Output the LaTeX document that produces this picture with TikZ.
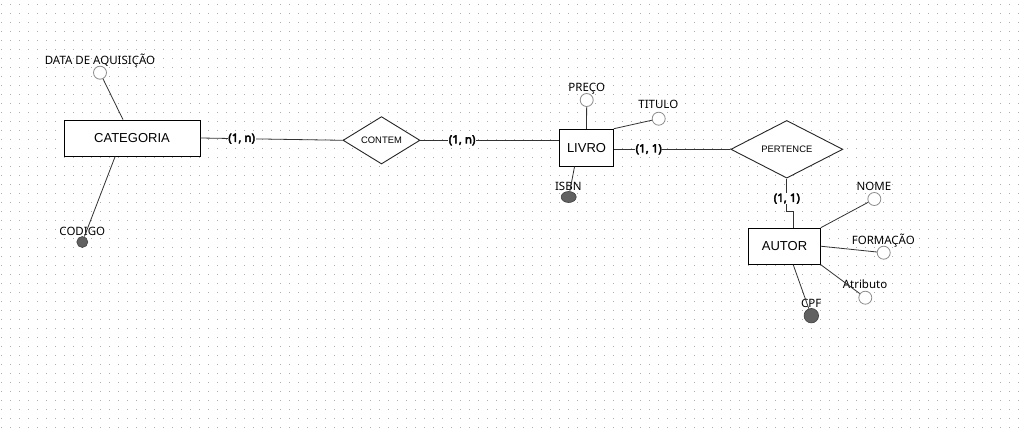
\documentclass[tikz,border=0pt]{standalone}
\usepackage{fontspec}
\setmainfont{Noto Sans}
\newfontfamily\boxfont{Liberation Sans}
\newfontfamily\cardfont{Noto Sans}[AutoFakeBold=3.6]
\usetikzlibrary{shapes.geometric,calc}
\begin{document}
\begin{tikzpicture}[x=1pt,y=-1pt,
  ent/.style={draw=black,line width=0.9pt,fill=white,inner sep=0pt,font=\boxfont\fontsize{13}{15}\selectfont},
  rel/.style={diamond,draw=black!85,line width=0.9pt,fill=white,inner sep=0pt,font=\boxfont\fontsize{9.4}{11}\selectfont},
  attr/.style={circle,draw=black!45,line width=0.8pt,fill=white,inner sep=0pt,minimum size=13pt},
  keyattr/.style={circle,draw=black!75,fill=black!62,inner sep=0pt,line width=0.6pt},
  lbl/.style={anchor=base,inner sep=0pt,font=\fontsize{11.5}{13}\selectfont},
  card/.style={fill=white,inner sep=0.6pt,font=\cardfont\bfseries\fontsize{11.5}{13}\selectfont},
  conn/.style={draw=black!80,line width=0.8pt},
]
\fill[white] (0,0) rectangle (1022,431);
\useasboundingbox (0,0) rectangle (1022,431);
\foreach \r in {0,...,47}
  \draw[black!32,line width=1pt,dash pattern=on 1pt off 8pt] (1,{4.5+9*\r}) -- (1022,{4.5+9*\r});

% entities and relationships
\node[ent,minimum width=136pt,minimum height=36pt] (cat) at (132,138) {CATEGORIA};
\node[rel,minimum width=77pt,minimum height=40pt] (contem) at (381.5,140.3) {CONTEM};
\node[ent,minimum width=53.5pt,minimum height=37pt] (livro) at (586.5,147.7) {LIVRO};
\node[rel,minimum width=112pt,minimum height=40pt] (pertence) at (786.8,149.3) {PERTENCE};
\node[ent,minimum width=71.5pt,minimum height=36pt] (autor) at (784.5,246.2) {AUTOR};

% attributes
\node[attr] (dataq) at (100,72.7) {};
\node[lbl] (dataq-l) at (100,64) {DATA DE AQUISIÇÃO};
\node[keyattr,minimum size=11pt] (codigo) at (82.3,242) {};
\node[lbl] (codigo-l) at (82.3,235) {CODIGO};
\node[attr] (preco) at (586.7,100) {};
\node[lbl] (preco-l) at (586.7,91) {PREÇO};
\node[attr] (titulo) at (658.7,118.7) {};
\node[lbl] (titulo-l) at (658.3,108.7) {TITULO};
\node[keyattr,ellipse,minimum width=15pt,minimum height=11pt] (isbn) at (568.7,197) {};
\node[lbl] (isbn-l) at (568.3,190) {ISBN};
\node[attr] (nome) at (874.3,199) {};
\node[lbl] (nome-l) at (874,190) {NOME};
\node[attr] (formacao) at (883.7,252.7) {};
\node[lbl] (formacao-l) at (883.3,244) {FORMAÇÃO};
\node[attr] (atrib) at (865.3,297.7) {};
\node[lbl] (atrib-l) at (865,288.7) {Atributo};
\node[keyattr,minimum size=14.5pt] (cpf) at (811.3,315.7) {};
\node[lbl] (cpf-l) at (811.3,307) {CPF};

% connectors
\draw[conn] (dataq) -- (cat);
\draw[conn] ($(cat.south west)!0.377!(cat.south east)$) -- (codigo);
\draw[conn] (cat.east) -- node[card,pos=0.29]{(1, n)} (contem.west);
\draw[conn] (contem.east) -- node[card,pos=0.3]{(1, n)} (contem.east -| livro.west);
\draw[conn] (preco) -- (livro.north);
\draw[conn] (titulo) -- (livro.north east);
\draw[conn] ($(livro.south west)!0.28!(livro.south east)$) -- (isbn);
\draw[conn] (pertence.west -| livro.east) -- node[card,pos=0.3]{(1, 1)} (pertence.west);
\draw[conn] (pertence.south) -- node[card,pos=0.62]{(1, 1)} ++(0,32.4) -| ($(autor.north)+(8.5,0)$);
\draw[conn] (nome) -- (autor.north east);
\draw[conn] (formacao) -- (autor.east);
\draw[conn] (atrib) -- (autor.south east);
\draw[conn] ($(autor.south west)!0.62!(autor.south east)$) -- (cpf);
\end{tikzpicture}
\end{document}
